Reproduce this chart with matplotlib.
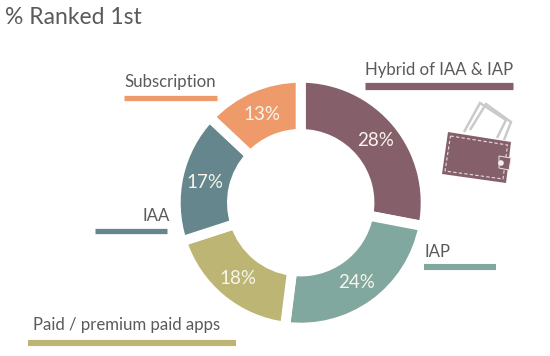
import matplotlib
matplotlib.use("Agg")
import matplotlib.pyplot as plt
from matplotlib.patches import Polygon, Circle

W, H = 550, 356
categories = ["Hybrid of IAA & IAP", "IAP", "Paid / premium paid apps", "IAA", "Subscription"]
values = [28, 24, 18, 17, 13]
value_labels = ["28%", "24%", "18%", "17%", "13%"]
colors = ["#85606B", "#81A89E", "#BDB574", "#64868C", "#EE9A6B"]
title = "% Ranked 1st"

def Y(y):
    return H - y

plt.rcParams["font.family"] = ["Lato", "DejaVu Sans"]
fig = plt.figure(figsize=(W / 100, H / 100), dpi=100, facecolor="white")
ax = fig.add_axes([0, 0, 1, 1])

gap = 10
cx, cy = 300.7, Y(202.7)
outer, inner = 120, 73.7
ax.pie(values, startangle=90, counterclock=False, center=(cx, cy), radius=outer + gap / 2,
       colors=colors,
       wedgeprops=dict(width=outer - inner + gap, edgecolor="white", linewidth=gap * 0.72))
ax.set_xlim(0, W)
ax.set_ylim(0, H)
ax.set_aspect("equal")
ax.axis("off")

# percentage labels
value_pos = [(376, 141), (357, 282), (238, 278), (205, 182), (262, 114)]
for (x, y), s in zip(value_pos, value_labels):
    ax.text(x, Y(y), s, color="#F8F5EC", fontsize=13.5, ha="center", va="center", fontweight="normal")

# title
ax.text(5, Y(18), title, color="#5A5A5A", fontsize=16.5, ha="left", va="center", fontweight="normal")

# category labels and their bars
label_pos = [(365, 70), (425, 252), (33, 325), (142, 216), (124, 82)]
bar_pos = [(365, 513, 85.5), (424, 496, 267), (28, 236, 343), (95, 167, 230.5), (124, 217, 97.5)]
bar_lw = [5.2, 4.4, 4.4, 3.8, 3.8]
for name, (lx, ly), (x0, x1, by), c, lw in zip(categories, label_pos, bar_pos, colors, bar_lw):
    ax.text(lx, Y(ly), name, color="#5A5A5A", fontsize=12.1, ha="left", va="center", fontweight="normal")
    ax.plot([x0, x1], [Y(by), Y(by)], color=c, lw=lw, solid_capstyle="butt")

# wallet icon
def P(pts):
    return [(x, Y(y)) for x, y in pts]

note1 = P([(464, 132), (480, 103), (506, 120), (497, 138)])
note2 = P([(470, 130), (486, 104), (511, 122), (504, 140)])
for n in (note1, note2):
    ax.add_patch(Polygon(n, closed=False, fill=False, edgecolor="#C9CBC9", lw=1.8))
ax.add_patch(Polygon(P([(448, 132), (511, 142), (506, 183), (442, 174)]), closed=True,
                     facecolor="#85606B", edgecolor="none", zorder=3))
ax.add_patch(Polygon(P([(450.5, 136), (507.5, 145), (503, 179), (445, 171)]), closed=True,
                     fill=False, edgecolor="#E6DFE0", lw=0.8, ls=(0, (3, 2)), zorder=4))
ax.add_patch(Polygon(P([(499, 156), (511, 158), (509, 170), (499, 168)]), closed=True,
                     facecolor="#85606B", edgecolor="#EDE7E8", lw=0.7, zorder=5))
ax.add_patch(Circle((501, Y(163)), 2.8, facecolor="#F4F0F0", edgecolor="none", zorder=6))

fig.savefig("out.png", dpi=100, facecolor="white")
